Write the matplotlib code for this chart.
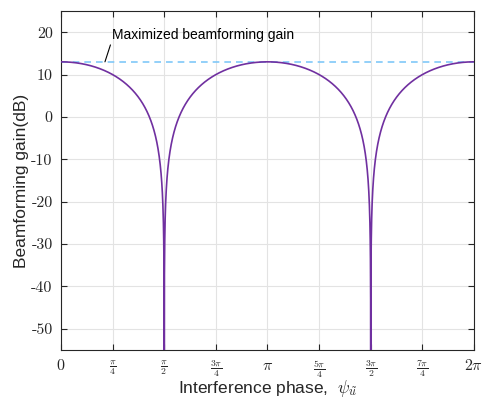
import numpy as np
import matplotlib
matplotlib.use("Agg")
import matplotlib.pyplot as plt

plt.rcParams["mathtext.fontset"] = "cm"
plt.rcParams["font.family"] = ["Liberation Sans", "DejaVu Sans"]

# Beamforming gain of a two-path combiner vs. interference phase
max_gain_db = 13.0                      # maximized gain (dB)
phase = np.linspace(0, 2 * np.pi, 4001)  # interference phase samples
gain_db = max_gain_db + 20 * np.log10(np.abs(np.cos(phase)) + 1e-300)

x_ticks = [0, np.pi / 4, np.pi / 2, 3 * np.pi / 4, np.pi,
           5 * np.pi / 4, 3 * np.pi / 2, 7 * np.pi / 4, 2 * np.pi]
x_tick_labels = [r"$0$", r"$\frac{\pi}{4}$", r"$\frac{\pi}{2}$", r"$\frac{3\pi}{4}$",
                 r"$\pi$", r"$\frac{5\pi}{4}$", r"$\frac{3\pi}{2}$", r"$\frac{7\pi}{4}$",
                 r"$2\pi$"]
y_ticks = [-50, -40, -30, -20, -10, 0, 10, 20]
y_tick_labels = [str(v) for v in y_ticks]

annotation_text = "Maximized beamforming gain"

fig = plt.figure(figsize=(4.89, 3.98), dpi=100)
ax = fig.add_axes([0.1247, 0.1206, 0.9693 - 0.1247, 0.9724 - 0.1206])

ax.grid(True, color="#e3e3e3", linewidth=0.8, zorder=0)
ax.set_axisbelow(True)

ax.axhline(max_gain_db, color="#80C8F8", linestyle=(0, (4, 3)), linewidth=1.2, zorder=2)
ax.plot(phase, gain_db, color="#7030A0", linewidth=1.2, zorder=3)

ax.set_xlim(0, 2 * np.pi)
ax.set_ylim(-55, 25)
ax.set_xticks(x_ticks)
ax.set_xticklabels(x_tick_labels, fontsize=11.5)
for lbl in ax.get_xticklabels():
    if "frac" in lbl.get_text():
        lbl.set_fontsize(10)
ax.set_yticks(y_ticks)
ax.set_yticklabels(y_tick_labels, fontfamily="cmr10", fontsize=11.5)

ax.tick_params(direction="in", length=4, width=0.8, top=True, right=True,
               color="#262626", labelcolor="#262626", pad=6)
for s in ax.spines.values():
    s.set_linewidth(0.8)
    s.set_color("#262626")

ax.set_xlabel(r"Interference phase,  $\psi_{\tilde{u}}$", fontsize=12.5, color="#262626")
ax.xaxis.set_label_coords(0.5, -0.084)
ax.set_ylabel("Beamforming gain(dB)", fontsize=12.5, color="#262626")
ax.yaxis.set_label_coords(-0.077, 0.5)

ax.annotate(annotation_text, xy=(0.669, max_gain_db), xytext=(0.78, 19.3),
            fontsize=10, color="black", va="center", ha="left",
            arrowprops=dict(arrowstyle="-", color="black", linewidth=0.8,
                            shrinkA=0, shrinkB=0,
                            relpos=(0.0, 0.2)))

fig.savefig("out.png", dpi=100)
